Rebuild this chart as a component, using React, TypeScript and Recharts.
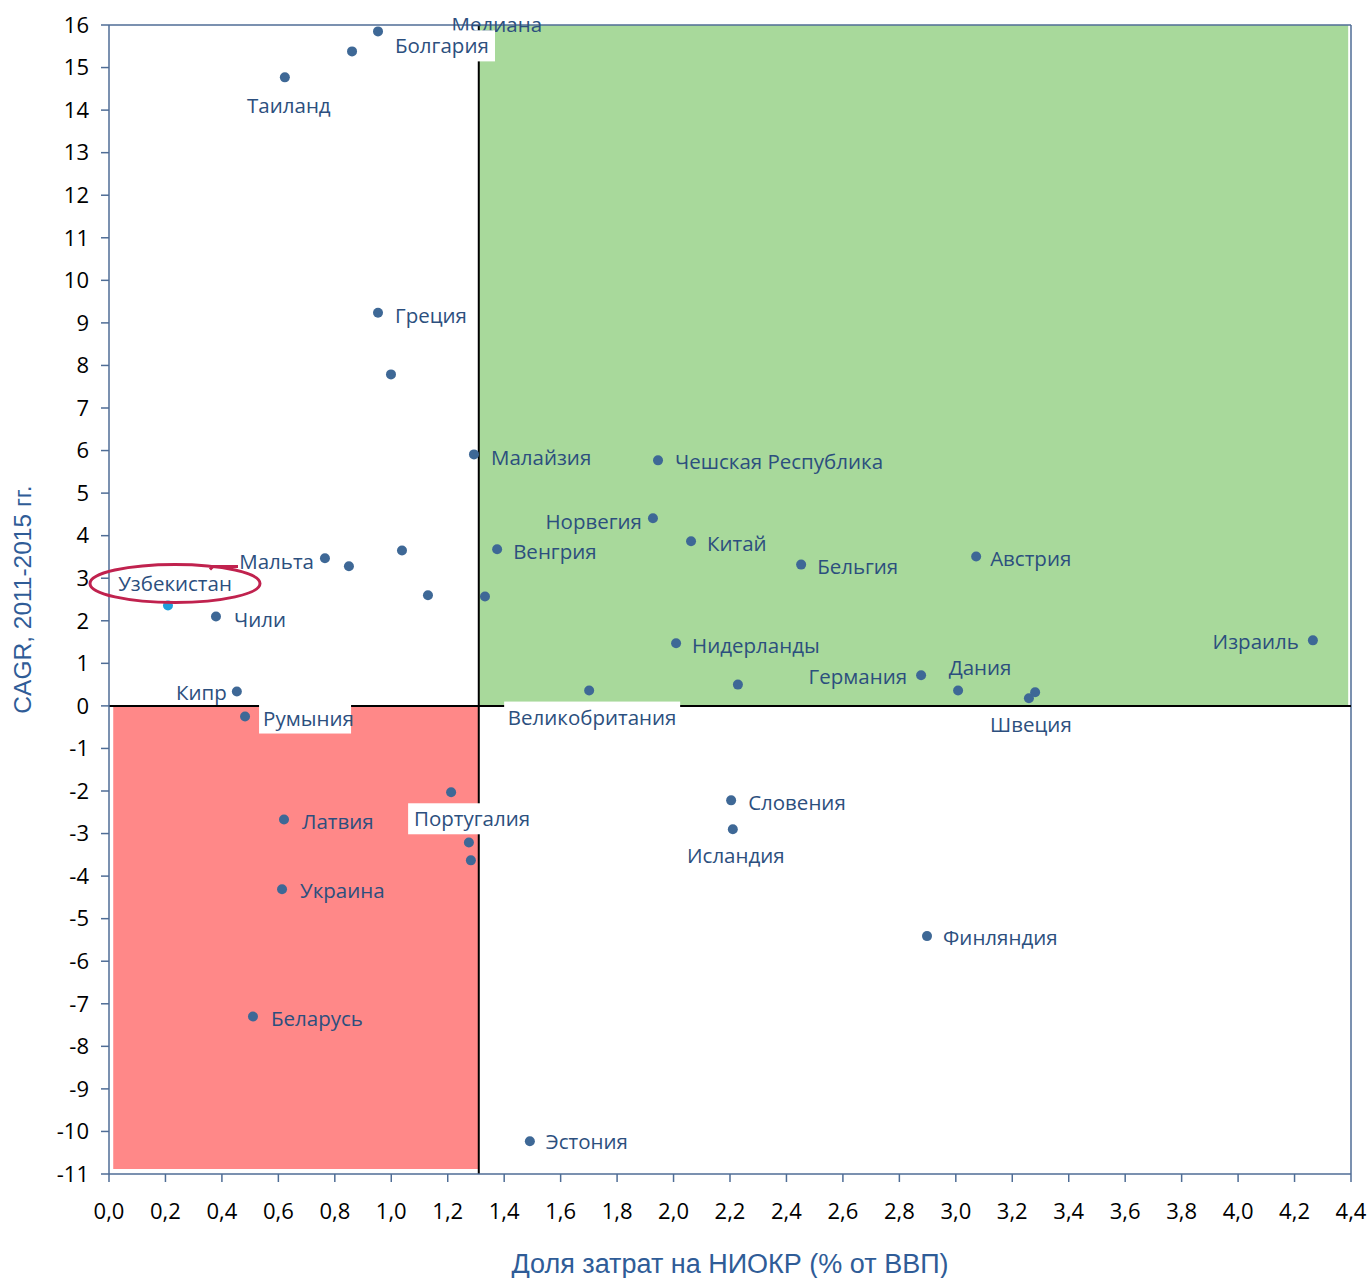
import React from 'react';
import {
  ScatterChart,
  Scatter,
  XAxis,
  YAxis,
  ReferenceArea,
  ReferenceLine,
  Label,
} from 'recharts';

document.body.style.margin = '0';

// страны (пустое имя = точка без подписи)
const countries = [
  'Болгария', '', 'Таиланд', 'Греция', '', 'Малайзия', 'Чешская Республика', 'Норвегия',
  'Китай', 'Венгрия', '', 'Бельгия', 'Австрия', 'Мальта', '', '', '', 'Узбекистан', 'Чили',
  'Нидерланды', 'Израиль', 'Германия', 'Дания', '', 'Великобритания', 'Кипр', 'Швеция', '',
  'Румыния', 'Португалия', 'Латвия', '', '', 'Словения', 'Исландия', 'Украина', 'Финляндия',
  'Беларусь', 'Эстония',
];
// доля затрат на НИОКР, % от ВВП
const rdShare = [
  0.953, 0.861, 0.623, 0.953, 0.999, 1.293, 1.945, 1.927,
  2.062, 1.375, 1.038, 2.452, 3.072, 0.765, 0.85, 1.13, 1.332, 0.209, 0.379,
  2.009, 4.265, 2.877, 3.008, 2.228, 1.701, 0.453, 3.259, 3.281,
  0.482, 1.212, 0.62, 1.275, 1.282, 2.204, 2.21, 0.613, 2.898,
  0.51, 1.491,
];
// CAGR 2011-2015, %
const cagr = [
  15.85, 15.38, 14.77, 9.24, 7.79, 5.91, 5.77, 4.41,
  3.87, 3.68, 3.65, 3.32, 3.51, 3.47, 3.28, 2.6, 2.57, 2.36, 2.1,
  1.47, 1.54, 0.72, 0.36, 0.5, 0.36, 0.34, 0.18, 0.32,
  -0.25, -2.03, -2.67, -3.21, -3.63, -2.22, -2.9, -4.31, -5.41,
  -7.3, -10.23,
];

const medianRd = 1.31;
const xTicks = [0, 0.2, 0.4, 0.6, 0.8, 1.0, 1.2, 1.4, 1.6, 1.8, 2.0, 2.2, 2.4, 2.6, 2.8, 3.0, 3.2, 3.4, 3.6, 3.8, 4.0, 4.2, 4.4];
const yTicks = [-11, -10, -9, -8, -7, -6, -5, -4, -3, -2, -1, 0, 1, 2, 3, 4, 5, 6, 7, 8, 9, 10, 11, 12, 13, 14, 15, 16];

const data = countries.map((name, i) => ({ name, x: rdShare[i], y: cagr[i] }));

// расположение подписей: [якорь, dx, dy, белая подложка]
const labelPos: Record<string, [string, number, number, boolean?]> = {
  'Болгария': ['start', 17, 14, true],
  'Таиланд': ['middle', 4, 28],
  'Греция': ['start', 17, 2],
  'Малайзия': ['start', 17, 3],
  'Чешская Республика': ['start', 17, 1],
  'Норвегия': ['end', -11, 3],
  'Китай': ['start', 16, 2],
  'Венгрия': ['start', 16, 2],
  'Бельгия': ['start', 16, 1],
  'Австрия': ['start', 14, 1],
  'Мальта': ['end', -11, 3],
  'Узбекистан': ['middle', 7, -22],
  'Чили': ['start', 18, 2],
  'Нидерланды': ['start', 16, 2],
  'Израиль': ['end', -14, 1],
  'Германия': ['end', -14, 1],
  'Дания': ['middle', 22, -24],
  'Великобритания': ['middle', 3, 26, true],
  'Кипр': ['end', -10, 1],
  'Швеция': ['middle', 2, 26],
  'Румыния': ['start', 18, 1, true],
  'Португалия': ['middle', 21, 26, true],
  'Латвия': ['start', 18, 1],
  'Словения': ['start', 17, 2],
  'Исландия': ['middle', 3, 26],
  'Украина': ['start', 18, 1],
  'Финляндия': ['start', 16, 1],
  'Беларусь': ['start', 18, 1],
  'Эстония': ['start', 16, 0],
};

const axisColor = '#4f6d96';
const dotColor = '#3e6896';
const labelColor = '#2c4f7e';
const labelFont = 'Open Sans, sans-serif';
const charW = 12;

const PointShape = (props: any) => {
  const { cx, cy, payload } = props;
  const name = payload.name;
  const pos = labelPos[name];
  const uz = name === 'Узбекистан';
  let label = null;
  if (pos) {
    const [anchor, dx, dy, boxed] = pos;
    const tx = cx + dx;
    const ty = cy + dy;
    const w = name.length * charW;
    const left = anchor === 'start' ? tx : anchor === 'end' ? tx - w : tx - w / 2;
    label = (
      <g>
        {boxed && <rect x={left - 4} y={ty - 15} width={w + 8} height={31} fill="#fff" />}
        {uz && (
          <g>
            <ellipse cx={tx} cy={ty} rx={85} ry={19} fill="none" stroke="#c0224e" strokeWidth={3} />
            <path d={`M ${tx + 35} ${ty - 14} L ${tx + 38} ${ty - 17} L ${tx + 63} ${ty - 17}`} fill="none" stroke="#c0224e" strokeWidth={3} />
          </g>
        )}
        <text x={tx} y={ty} textAnchor={anchor} dominantBaseline="central" fontSize={20.5} fontFamily={labelFont} fill={labelColor}>
          {name}
        </text>
      </g>
    );
  }
  return (
    <g>
      <circle cx={cx} cy={cy} r={5} fill={uz ? '#1e9fdc' : dotColor} />
      {label}
    </g>
  );
};

export default function App() {
  return (
    <div style={{ width: 1370, height: 1278, background: '#fff' }}>
      <ScatterChart width={1370} height={1278} margin={{ top: 25, right: 19, bottom: 0, left: 0 }}>
        <XAxis
          type="number"
          dataKey="x"
          domain={[0, 4.4]}
          ticks={xTicks}
          interval={0}
          height={104}
          tickSize={8}
          tickMargin={21}
          tickFormatter={(v: number) => v.toFixed(1).replace('.', ',')}
          tick={{ fill: '#000', fontSize: 22, fontFamily: labelFont }}
          axisLine={{ stroke: axisColor, strokeWidth: 1.5 }}
          tickLine={{ stroke: axisColor, strokeWidth: 1.5 }}
        >
          <Label
            content={(p: any) => (
              <text x={p.viewBox.x + p.viewBox.width / 2} y={p.viewBox.y + 90} textAnchor="middle" dominantBaseline="central" fontSize={27} fontFamily="Liberation Sans, Arial, sans-serif" fill="#2f5c97">
                Доля затрат на НИОКР (% от ВВП)
              </text>
            )}
          />
        </XAxis>
        <YAxis
          type="number"
          dataKey="y"
          domain={[-11, 16]}
          ticks={yTicks}
          interval={0}
          width={109}
          tickSize={8}
          tickMargin={12}
          tick={{ fill: '#000', fontSize: 22, fontFamily: labelFont }}
          axisLine={{ stroke: axisColor, strokeWidth: 1.5 }}
          tickLine={{ stroke: axisColor, strokeWidth: 1.5 }}
        >
          <Label
            content={(p: any) => {
              const cx = 22;
              const cy = p.viewBox.y + p.viewBox.height / 2;
              return (
                <text x={cx} y={cy} transform={`rotate(-90 ${cx} ${cy})`} textAnchor="middle" dominantBaseline="central" fontSize={24.5} fontFamily="Liberation Sans, Arial, sans-serif" fill="#2f5c97">
                  CAGR, 2011-2015 гг.
                </text>
              );
            }}
          />
        </YAxis>
        <ReferenceArea x1={medianRd} x2={4.39} y1={0} y2={16} fill="#a8d99b" fillOpacity={1} stroke="none" />
        <ReferenceArea x1={0.015} x2={medianRd} y1={-10.88} y2={0} fill="#ff8888" fillOpacity={1} stroke="none" />
        <ReferenceLine y={16} stroke={axisColor} strokeWidth={1.5} />
        <ReferenceLine x={4.4} stroke={axisColor} strokeWidth={1.5} />
        <ReferenceLine y={0} stroke="#000" strokeWidth={2} segment={[{ x: 0.015, y: 0 }, { x: 4.4, y: 0 }]} />
        <ReferenceLine
          x={medianRd}
          stroke="#000"
          strokeWidth={2}
          segment={[{ x: medianRd, y: -10.88 }, { x: medianRd, y: 16 }]}
          label={(p: any) => (
            <text x={p.viewBox.x + 18} y={p.viewBox.y - 1} textAnchor="middle" dominantBaseline="central" fontSize={20.5} fontFamily={labelFont} fill={labelColor}>
              Медиана
            </text>
          )}
        />
        <Scatter data={data} isAnimationActive={false} shape={PointShape} />
      </ScatterChart>
    </div>
  );
}
